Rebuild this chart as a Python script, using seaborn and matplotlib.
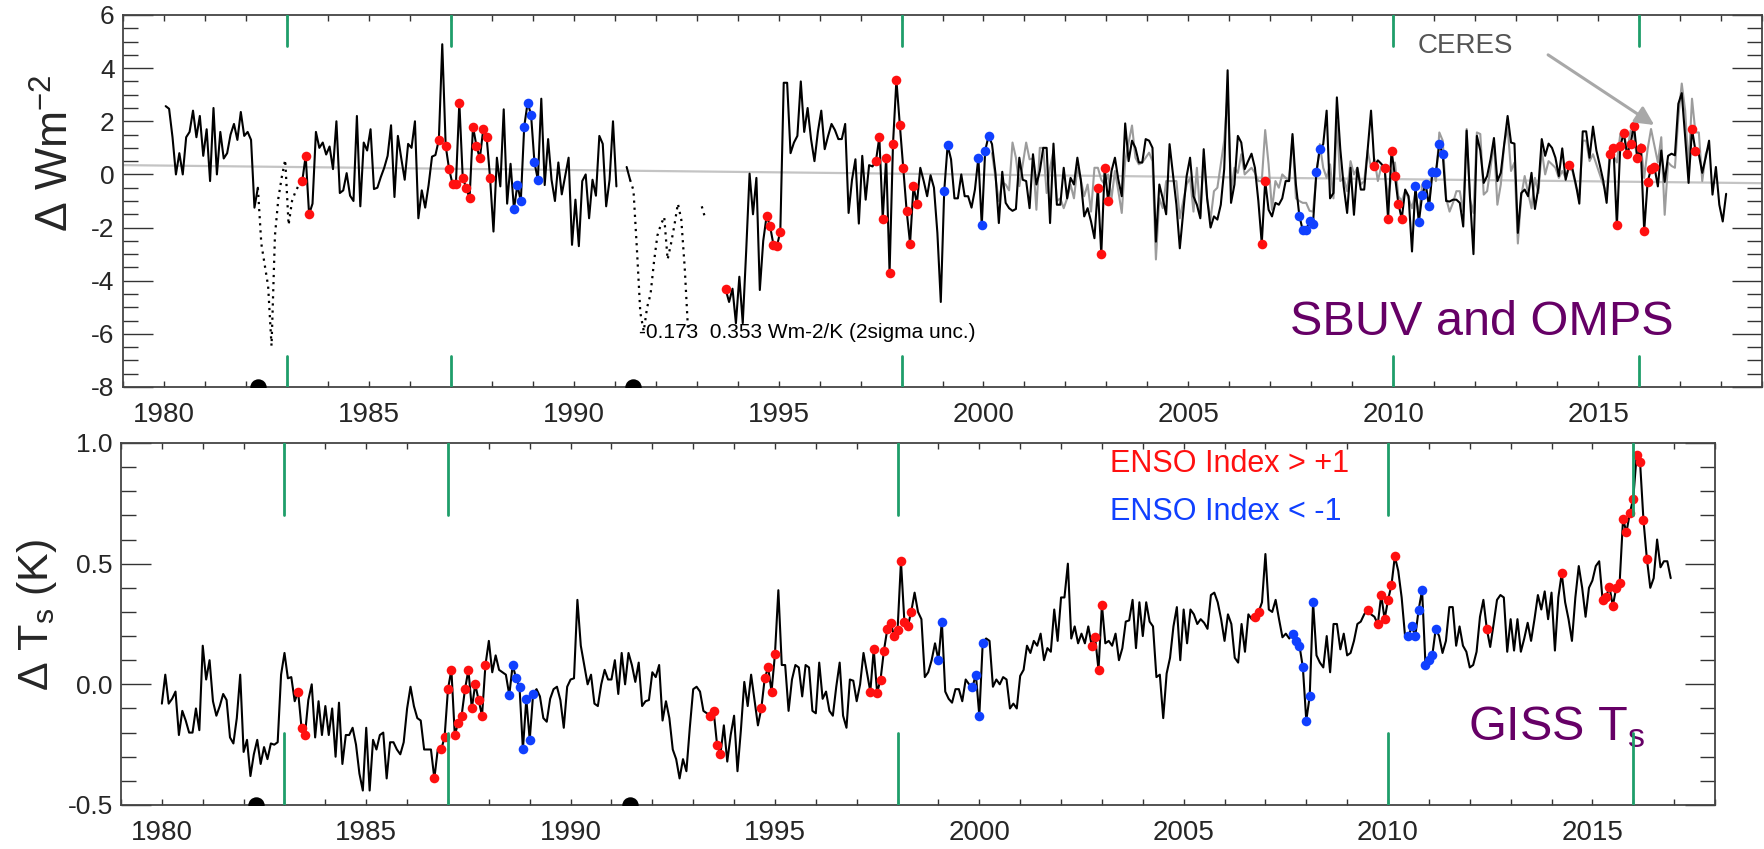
import numpy as np
import pandas as pd
import matplotlib
matplotlib.use("Agg")
import matplotlib.pyplot as plt
import seaborn as sns

sns.set_style("ticks")
plt.rcParams["font.family"] = ["Liberation Sans", "DejaVu Sans"]
plt.rcParams["mathtext.fontset"] = "custom"
plt.rcParams["mathtext.rm"] = "Liberation Sans"
plt.rcParams["mathtext.it"] = "Liberation Sans:italic"
plt.rcParams["mathtext.default"] = "regular"
plt.rcParams["axes.unicode_minus"] = False

# ---------------- data: SBUV/OMPS (top panel), monthly anomalies, W m-2 -------------
sbuv_1980_82 = [2.57, 2.47, 1.4, 0.0, 0.8, 0.0, 1.4, 1.6, 2.4, 1.4, 2.2, 0.7,
                1.7, -0.25, 2.5, 0.0, 1.6, 0.6, 0.8, 1.5, 1.9, 1.3, 2.35, 1.45,
                1.6, 1.3, -1.25, -0.5]                       # Jan 1980 - Apr 1982
sbuv_1982_83_dotted = [-0.5, -2.6, -3.4, -4.2, -6.45, -2.3, -0.9, -0.1, 0.55,
                       -1.9, -1.0, -0.65, -0.4]               # Apr 1982 - Apr 1983
sbuv_1983_91 = [-0.25, 0.7, -1.5, -1.1, 1.6, 1.0, 1.2, 0.75,
                1.05, 0.2, 2.0, -0.7, -0.6, 0.05, -0.8, -1.0, 2.2, -1.2, 1.2, 0.9,
                1.7, -0.55, -0.5, -0.1, 0.25, 0.7, 1.85, -0.85, 1.45, 0.6, -0.2, 1.15,
                1.0, 2.0, -1.65, -0.6, -1.25,
                -0.4, 0.67, 0.73, 1.3, 4.9, 1.08, 0.2, -0.35, -0.35, 2.7,
                -0.13, -0.5, -0.9, 1.8, 1.08, 0.6, 1.7, 1.4, -0.13, -2.15,
                0.63, -0.45, 2.45, -1.1, 0.4, -1.3, -0.4, -1.0, 1.8, 2.7,
                2.25, 0.45, -0.2, 2.85, -0.4, 1.33, -0.2, -1.0, 0.45, -0.75,
                -0.06, 0.63, -2.65, -0.95, -2.7, -0.25, 0.0, -1.65, -0.2, -0.8,
                1.45, 1.15, -1.2, -0.2, 2.0, -0.45]           # May 1983 - Jan 1991
sbuv_1991_spring = [0.28, -0.2]                               # Apr - May 1991
sbuv_1991_92_dotted = [-0.2, -0.6, -2.8, -5.2, -5.9, -5.0, -4.5, -3.3, -2.3,
                       -1.9, -1.6, -3.2, -2.6, -1.9, -1.1, -1.7, -3.5, -5.9]  # May 1991 - Oct 1992
sbuv_1993_dotted = [-1.2, -1.65]                              # Feb - Mar 1993
sbuv_1993_99 = [-4.33, -4.8, -4.3, -5.6, -3.85, -5.6, -2.9, 0.03, -1.5, -0.13,
                -4.35, -2.5, -1.55, -1.95, -2.65, -2.7, -2.15, 3.45, 3.45, 0.8,
                1.2, 1.45, 3.5, 1.6, 2.5, 1.33, 0.5, 1.6, 2.4, 0.95,
                1.45, 1.9, 1.67, 1.33, 1.33, 1.9, -1.45, -0.2, 0.57, -1.85,
                0.7, -0.95, 0.35, 0.3, 0.5, 1.4, -1.67, 0.63, -3.7, 1.14,
                3.55, 1.87, 0.25, -1.37, -2.6, -0.45, -1.1, 0.25, -0.25, -0.82,
                -0.03, -0.5, -2.2, -4.8, -0.63, 1.1, 0.57, -0.9, -0.9, 0.0]   # Sep 1993 - Jun 1999
sbuv_1999_05 = [-0.82, -0.82, -1.25, -0.57, 0.63, -1.92, 0.9, 1.45, 1.14, 0.06,
                -1.83, 0.1, -1.07, -1.27, -1.37, -1.3, 0.63, -0.2, -0.25, -1.27,
                0.76, -0.38, 0.13, 1.0, 1.0, -1.83, 1.16, -1.14, -1.14, 0.25,
                -0.9, -0.13, -0.38, 0.63, -0.2, -1.58, -1.27, -1.77, -2.4, -0.5,
                -3.0, 0.25, -1.0, 0.13, 0.63, -0.2, -0.82, 1.92, 0.5, 1.27,
                1.0, 0.45, 0.45, 1.33, 1.27, 1.0, -2.53, -0.38, -0.9, -1.5,
                1.14, 0.0, -1.14, -2.78, -1.4, -0.06, 0.63, -0.82, -1.14, -1.65,
                0.95, -0.9, -2.0, -1.58, -1.7, -1.14, 0.2, 3.92]   # Jul 1999 - Dec 2005
sbuv_2006_12 = [-1.07, -0.38, 1.45, 1.2, 0.2, 0.5, 0.78, 0.25, -1.0, -2.6,
                -0.25, -1.33, -1.58, -1.07, -1.14, -0.9, -0.25, -0.25, 1.52, -0.38,
                -1.55, -2.1, -2.1, -1.75, -1.87, 0.1, 0.95, 1.14, 2.4, -0.9,
                -0.7, 2.9, 0.95, -0.45, -1.45, 0.25, -1.52, 0.25, -0.57, -0.57,
                0.9, 2.4, 0.32, 0.53, 0.4, 0.25, -1.67, 0.9, -0.06, -1.1,
                -1.67, -0.57, -0.82, -2.9, -0.45, -1.8, -0.76, -0.35, -1.2, 0.1,
                0.1, 1.14, 0.76, -1.0, -1.02, -0.95, -0.95, -1.07, -1.96, 1.65,
                -0.9, -3.0, 1.45, 0.9, -0.32, -0.06, 0.57, 1.37, -0.25, 0.06,
                1.14, 2.2]                                    # Jan 2006 - Oct 2012
sbuv_2012_18 = [1.2, 1.16, -2.2, -0.7, -0.57, -0.82, 0.06, -1.3, -0.5, 1.33,
                0.7, 1.16, 1.0, 0.63, -0.06, 0.98, -0.2, 0.35, 0.2, -0.38,
                -1.1, 1.62, 1.62, 0.63, 1.8, 0.9, 0.35, -0.23, -1.07, 0.78,
                1.0, -1.92, 1.08, 1.55, 0.76, 1.16, 1.84, 0.63, 0.98, -2.13,
                -0.28, 0.2, 0.28, -0.45, 0.9, -0.28, 0.7, 0.78, 0.72, 2.66,
                3.06, 1.4, -0.32, 1.7, 0.9, 0.76, 0.06, 0.63, 1.27, -0.76,
                0.28, -1.14, -1.77, -0.73]                    # Nov 2012 - Feb 2018

# CERES (grey line), Mar 2000 - Sep 2017
ceres_2000_05 = [0.8, -0.1, -1.0, -0.3, -0.38, -0.6, 1.2, 0.63, -0.44, 0.38,
                 1.2, 0.57, 0.6, -1.33, 1.0, 1.0, -0.7, 0.25, 0.9, -1.0,
                 -0.9, -1.27, -0.9, -0.38, -0.9, 0.25, -0.2, -0.82, -0.38, -1.4,
                 0.25, 0.25, -0.2, -0.38, 0.0, -0.9, 0.13, -0.63, -1.45, 0.5,
                 1.2, 1.84, 0.63, 0.38, 0.45, 0.63, 0.82, 0.5, -3.2, -0.9,
                 -1.27, -0.25, -0.25, -0.25, -0.25, -1.65, -1.0, -0.38, -0.13, -1.4,
                 0.25, -1.58, 0.63, -0.9, -1.7, -0.63, -0.5, 0.38, 1.27, 3.04]
ceres_2006_12 = [-0.63, 0.25, 0.06, 0.76, 0.0, 0.13, 0.25, 0.06, -0.25, -0.25,
                 1.67, 0.38, -1.33, -0.25, -0.5, 0.0, -0.13, -0.25, 1.4, -0.9,
                 -1.0, -1.07, -1.07, -1.37, -1.4, -0.06, 1.14, 0.25, -0.13, 0.38,
                 -0.9, 2.0, -0.25, -0.13, -0.63, 0.5, 0.0, 0.25, -0.38, -0.25,
                 0.9, 0.25, 0.57, -0.25, 0.3, 0.13, -0.9, 0.0, 0.45, -0.82,
                 -1.0, -0.63, -0.9, -1.27, -0.7, -1.52, -0.38, -0.63, -1.14, 0.25,
                 -0.25, 1.58, 1.27, -0.9, -1.4, -1.07, -0.63, -0.63, -1.4, 1.71,
                 -0.95, -1.45, 1.58, 1.52, -0.76, -0.63, 0.25, 1.2, -1.14, -0.38,
                 1.14, 1.77]
ceres_2012_17 = [0.13, 0.45, -2.6, -0.82, -0.06, -0.7, -1.27, -0.13, -0.7, 0.9,
                 0.0, 0.5, 0.38, 0.25, -0.13, 0.13, -0.13, 0.25, 0.13, -0.45,
                 -0.76, 1.27, 1.27, 0.5, 0.76, 0.38, 0.0, -0.38, -0.7, 0.9,
                 0.7, 0.45, 1.52, 1.65, 0.82, 1.65, 1.46, 0.5, 1.14, -0.13,
                 0.95, 1.71, 1.08, 0.45, 1.4, -1.52, 0.45, 0.32, 0.25, 2.15,
                 3.42, 2.4, 0.25, 2.85, 1.58, 1.58, -0.25, 0.76, 1.08]

trend_years = [1979, 2019]
trend_vals = [0.35, -0.33]

# ---------------- data: GISS surface temperature (bottom panel), K ----------------
giss_1980_90 = [-0.08, 0.04, -0.08, -0.06, -0.03, -0.21, -0.11, -0.15, -0.2, -0.2, -0.1, -0.19,
                0.16, 0.02, 0.1, -0.07, -0.13, -0.09, -0.04, -0.065, -0.22, -0.245, -0.14, 0.04,
                -0.28, -0.23, -0.38, -0.29, -0.23, -0.33, -0.26, -0.31, -0.245, -0.25, -0.24, 0.04,
                0.13, 0.025, 0.03, -0.07, -0.03, -0.18, -0.21, -0.065, 0.0, -0.22, -0.07, -0.21,
                -0.09, -0.21, -0.1, -0.3, -0.076, -0.33, -0.21, -0.21, -0.18, -0.25, -0.37, -0.44,
                -0.18, -0.44, -0.23, -0.27, -0.21, -0.2, -0.39, -0.24, -0.24, -0.27, -0.29, -0.24,
                -0.1, -0.01, -0.09, -0.14, -0.15, -0.27, -0.27, -0.27, -0.39, -0.27, -0.27, -0.22,
                -0.02, 0.06, -0.21, -0.16, -0.13, -0.02, 0.06, -0.1, 0.0, -0.065, -0.13, 0.08,
                0.18, 0.05, 0.12, 0.06, 0.05, 0.04, -0.044, 0.08, 0.025, -0.01, -0.27, -0.06,
                -0.23, -0.04, -0.02, -0.05, -0.14, -0.155, -0.06, -0.02, -0.01, -0.065, -0.18, -0.01,
                0.02, 0.025]                                  # Jan 1980 - Feb 1990
giss_1990_04 = [0.35, 0.16, 0.08, 0.0, 0.04, -0.08, -0.09, 0.0, 0.06, 0.02,
                0.02, 0.1, -0.04, 0.13, 0.0, 0.13, 0.08, 0.01, 0.09, -0.09, -0.07, -0.065,
                0.05, 0.03, 0.08, -0.15, -0.07, -0.14, -0.27, -0.31, -0.39, -0.31, -0.36, -0.18,
                -0.02, -0.01, -0.03, -0.11, -0.12, -0.13, -0.11, -0.25, -0.29, -0.17, -0.32, -0.21,
                -0.13, -0.36, -0.19, 0.01, -0.09, 0.04, -0.065, -0.17, -0.1, 0.025, 0.07, -0.03,
                0.125, 0.39, 0.08, 0.08, -0.11, 0.02, 0.08, 0.07, -0.05, 0.08, 0.07, -0.11,
                -0.12, 0.09, -0.06, -0.03, -0.11, -0.13, -0.01, 0.09, -0.13, -0.18, 0.02, 0.015,
                -0.07, 0.0, 0.13, 0.05, -0.03, 0.145, -0.035, 0.02, 0.14, 0.23, 0.255, 0.2,
                0.225, 0.51, 0.26, 0.24, 0.3, 0.38, 0.3, 0.27, 0.03, 0.05, 0.1, 0.17,
                0.1, 0.26, -0.03, -0.06, -0.076, -0.02, -0.02, -0.07, 0.02, 0.0, -0.01, 0.04,
                -0.13, 0.17, 0.19, 0.18, -0.01, 0.02, 0.0, 0.03, 0.02, -0.1, -0.08, -0.1,
                0.035, 0.06, 0.16, 0.13, 0.18, 0.16, 0.21, 0.1, 0.15, 0.135, 0.31, 0.18,
                0.36, 0.36, 0.5, 0.19, 0.24, 0.17, 0.21, 0.17, 0.24, 0.16, 0.195, 0.06,
                0.33, 0.17, 0.18, 0.16, 0.21, 0.1, 0.15, 0.26, 0.265, 0.35, 0.15, 0.34,
                0.2, 0.34, 0.26, 0.24, 0.03]                  # Mar 1990 - May 2004
giss_2004_16 = [0.04, -0.14, 0.045, 0.11, 0.24, 0.32, 0.1,
                0.31, 0.17, 0.31, 0.29, 0.25, 0.27, 0.255, 0.23, 0.37, 0.38, 0.34, 0.27,
                0.18, 0.29, 0.25, 0.11, 0.09, 0.25, 0.135, 0.29, 0.27, 0.28, 0.3, 0.34,
                0.54, 0.31, 0.3, 0.35, 0.27, 0.195, 0.21, 0.19, 0.21, 0.18, 0.16, 0.07,
                -0.15, -0.05, 0.34, 0.12, 0.09, 0.07, 0.2, 0.05, 0.25, 0.25, 0.145, 0.21,
                0.12, 0.13, 0.18, 0.25, 0.26, 0.29, 0.31, 0.29, 0.28, 0.25, 0.37, 0.27,
                0.35, 0.41, 0.53, 0.47, 0.36, 0.2, 0.2, 0.24, 0.2, 0.31, 0.39, 0.08,
                0.1, 0.12, 0.23, 0.2, 0.13, 0.18, 0.32, 0.32, 0.16, 0.24, 0.16, 0.135,
                0.07, 0.08, 0.135, 0.28, 0.35, 0.23, 0.155, 0.25, 0.35, 0.37, 0.36, 0.135,
                0.27, 0.14, 0.27, 0.135, 0.19, 0.255, 0.18, 0.27, 0.37, 0.31, 0.385, 0.27,
                0.38, 0.14, 0.36, 0.46, 0.34, 0.27, 0.18, 0.36, 0.49, 0.4, 0.28, 0.4,
                0.43, 0.49, 0.51, 0.35, 0.36, 0.405, 0.325, 0.4, 0.42, 0.685, 0.63, 0.71,
                0.77, 0.95, 0.92, 0.68, 0.52, 0.4, 0.44, 0.6, 0.485, 0.51, 0.51, 0.44]  # Jun 2004 - Dec 2016

# ENSO index months
warm_periods = [("1983-05", "1983-07"), ("1986-09", "1986-09"), ("1986-11", "1987-12"),
                ("1993-06", "1993-09"), ("1994-09", "1995-01"), ("1997-05", "1998-05"),
                ("2002-10", "2003-01"), ("2006-10", "2006-11"), ("2009-07", "2009-07"),
                ("2009-10", "2010-03"), ("2014-04", "2014-04"), ("2015-04", "2016-05"),
                ("2017-04", "2017-05")]
warm_giss_only = [("2012-06", "2012-06")]
cold_periods = [("1988-07", "1989-02"), ("1999-01", "1999-02"), ("1999-11", "2000-02"),
                ("2007-09", "2008-03"), ("2010-07", "2011-03")]

volcano_years = [1982.3, 1991.45]
green_years = [1983, 1987, 1998, 2010, 2016]

# text
ann_sens = "-0.173  0.353 Wm-2/K (2sigma unc.)"

# ---------------- helpers ----------------
def expand(periods):
    out = []
    for a, b in periods:
        out += [str(p) for p in pd.period_range(a, b, freq="M")]
    return set(out)


def series(y0, m0, vals, seg, offset):
    idx = np.arange(len(vals)) + (m0 - 1)
    yr = y0 + idx // 12
    mo = idx % 12 + 1
    return pd.DataFrame({"t": yr + (mo - 1) / 12.0 + offset, "v": vals, "seg": seg,
                         "ym": [f"{a}-{b:02d}" for a, b in zip(yr, mo)]})


OFF_TOP = 1.0 / 24
solid_top = pd.concat([
    series(1980, 1, sbuv_1980_82, "a", OFF_TOP),
    series(1983, 5, sbuv_1983_91, "b", OFF_TOP),
    series(1991, 4, sbuv_1991_spring, "c", OFF_TOP),
    series(1993, 9, sbuv_1993_99 + sbuv_1999_05 + sbuv_2006_12 + sbuv_2012_18, "d", OFF_TOP),
], ignore_index=True)
dotted_top = pd.concat([
    series(1982, 4, sbuv_1982_83_dotted, "a", OFF_TOP),
    series(1991, 5, sbuv_1991_92_dotted, "b", OFF_TOP),
    series(1993, 2, sbuv_1993_dotted, "c", OFF_TOP),
], ignore_index=True)
ceres = series(2000, 3, ceres_2000_05 + ceres_2006_12 + ceres_2012_17, "a", OFF_TOP)
giss = series(1980, 1, giss_1980_90 + giss_1990_04 + giss_2004_16, "a", 0.0)

warm = expand(warm_periods)
warm_g = warm | expand(warm_giss_only)
cold = expand(cold_periods)

RED = "#ff1010"
BLUE = "#1040ff"
GREEN = "#1f9e6a"
PURPLE = "#660066"
SPINE = "#444444"

W, H = 1764, 849
fig = plt.figure(figsize=(W / 100, H / 100), dpi=100)
ax1 = fig.add_axes([123 / W, 1 - 387 / H, (1762 - 123) / W, (387 - 15) / H])
ax2 = fig.add_axes([121 / W, 1 - 805 / H, (1715 - 121) / W, (805 - 443) / H])

# ---------------- top panel ----------------
sns.lineplot(x=trend_years, y=trend_vals, color="#c4c4c4", lw=1.6, ax=ax1, zorder=1)
sns.lineplot(data=ceres, x="t", y="v", units="seg", estimator=None, sort=False,
             color="#9c9c9c", lw=1.5, ax=ax1, zorder=2)
sns.lineplot(data=dotted_top, x="t", y="v", units="seg", estimator=None, sort=False,
             color="black", lw=1.6, linestyle=(0, (1, 2.2)), ax=ax1, zorder=3)
sns.lineplot(data=solid_top, x="t", y="v", units="seg", estimator=None, sort=False,
             color="black", lw=1.5, ax=ax1, zorder=3)
w1 = solid_top[solid_top["ym"].isin(warm)]
c1 = solid_top[solid_top["ym"].isin(cold)]
sns.scatterplot(data=w1, x="t", y="v", color=RED, s=48, linewidth=0, ax=ax1, zorder=4)
sns.scatterplot(data=c1, x="t", y="v", color=BLUE, s=48, linewidth=0, ax=ax1, zorder=4)

# ---------------- bottom panel ----------------
sns.lineplot(data=giss, x="t", y="v", units="seg", estimator=None, sort=False,
             color="black", lw=1.5, ax=ax2, zorder=3)
w2 = giss[giss["ym"].isin(warm_g)]
c2 = giss[giss["ym"].isin(cold)]
sns.scatterplot(data=w2, x="t", y="v", color=RED, s=48, linewidth=0, ax=ax2, zorder=4)
sns.scatterplot(data=c2, x="t", y="v", color=BLUE, s=48, linewidth=0, ax=ax2, zorder=4)

limits = {ax1: ((1979, 2019), (-8, 6)), ax2: ((1979, 2018), (-0.5, 1.0))}

# ---------------- common decorations ----------------
for ax, glen in ((ax1, 31 / 372), (ax2, 72 / 362)):
    (x0, x1), (y0, y1) = limits[ax]
    ax.set_xticks(list(range(1980, x1 + 1, 5)))
    ax.set_xticks(list(range(x0, x1 + 1)), minor=True)
    ax.set_xticklabels([str(y) for y in range(1980, x1 + 1, 5)])
    for g in green_years:
        ax.axvline(g, ymin=1 - glen, ymax=1, color=GREEN, lw=2.0, zorder=5)
        ax.axvline(g, ymin=0, ymax=glen, color=GREEN, lw=2.0, zorder=5)
    sns.scatterplot(x=volcano_years, y=[y0] * len(volcano_years), color="black",
                    s=140, linewidth=0, ax=ax, zorder=6)
    ax.collections[-1].set_clip_on(True)
    ax.collections[-1].set_clip_path(ax.patch)
    ax.tick_params(axis="x", which="both", direction="in", top=True, bottom=True,
                   length=4, width=1.0, color="#333333", labelsize=20, pad=11)
    ax.tick_params(axis="y", which="major", direction="in", left=True, right=True,
                   length=21.5, width=1.0, color="#333333", labelsize=19, pad=6)
    ax.tick_params(axis="y", which="minor", direction="in", left=True, right=True,
                   length=10.8, width=1.0, color="#333333")
    for sp in ax.spines.values():
        sp.set_visible(True)
        sp.set_color(SPINE)
        sp.set_linewidth(1.3)
    ax.set_xlabel("")

ax1.set_yticks(range(-8, 7, 2))
ax1.set_yticklabels([str(v) for v in range(-8, 7, 2)])
ax1.set_yticks(np.arange(-8, 6.01, 0.5), minor=True)
ax2.set_yticks([-0.5, 0.0, 0.5, 1.0])
ax2.set_yticklabels(["-0.5", "0.0", "0.5", "1.0"])
ax2.set_yticks(np.arange(-0.5, 1.001, 0.1), minor=True)

for ax, ((x0, x1), (y0, y1)) in limits.items():
    ax.set_xlim(x0, x1)
    ax.set_ylim(y0, y1)

ax1.set_ylabel("Δ Wm$^{-2}$", fontsize=32, va="center", ha="center", rotation_mode="anchor")
ax1.yaxis.set_label_coords((56 - 123) / 1639, (387 - 153) / 372)
ax2.set_ylabel("Δ T$_{s}$ (K)", fontsize=31, va="center", ha="center", rotation_mode="anchor")
ax2.yaxis.set_label_coords((37 - 121) / 1594, (805 - 615) / 362)

# texts
ax1.text(1991.59, -6.16, ann_sens, fontsize=15, color="black", va="baseline", ha="left", zorder=7)
ax1.text(2010.59, 4.57, "CERES", fontsize=20, color="#555555", va="baseline", ha="left")
ax1.annotate("", xy=(2016.37, 1.86), xytext=(2013.78, 4.5),
             arrowprops=dict(arrowstyle="-|>", color="#a8a8a8", lw=2.2, mutation_scale=28,
                             shrinkA=0, shrinkB=0), zorder=7)
ax1.text(2007.49, -6.04, "SBUV and OMPS", fontsize=35, color=PURPLE, va="baseline", ha="left")

ax2.text(2003.2, 0.88, "ENSO Index > +1", fontsize=22, color=RED, va="baseline", ha="left")
ax2.text(2003.2, 0.68, "ENSO Index < -1", fontsize=22, color=BLUE, va="baseline", ha="left")
ax2.text(2011.95, -0.231, "GISS T$_{s}$", fontsize=35, color=PURPLE, va="baseline", ha="left")

fig.savefig("out.png", dpi=100)
